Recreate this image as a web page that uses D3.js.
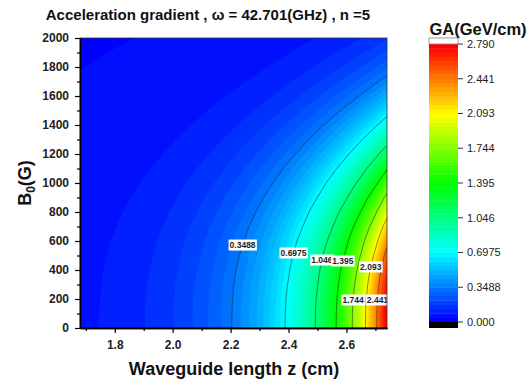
<!DOCTYPE html>
<html><head><meta charset="utf-8">
<script src="https://cdn.jsdelivr.net/npm/d3@7"></script>
<style>
body{margin:0;background:#fff;}
text{font-family:"Liberation Sans",Arial,sans-serif;}
</style>
</head><body>
<svg id="chart" width="532" height="381"></svg>
<script>
// ---- data ----
// GA (GeV/cm) along the bottom edge (B0 = 0) versus waveguide length z (cm)
const zNodes = [1.65,1.70,1.75,1.80,1.85,1.90,1.95,2.00,2.05,2.10,2.15,2.20,2.25,2.30,2.35,2.40,2.45,2.50,2.55,2.60,2.65,2.70,2.75];
const gaAtZeroField = [0.072,0.079,0.088,0.099,0.112,0.129,0.149,0.173,0.204,0.241,0.287,0.343,0.412,0.496,0.600,0.728,0.884,1.076,1.312,1.601,1.957,2.393,2.929];
// relative fall of the gradient with magnetic field B0 (G), read along the right edge
const b0Nodes = [0,100,200,300,400,500,600,700,800,900,1000,1100,1200,1300,1400,1500,1600,1700,1800,1900,2000];
const fieldRatio = [1,0.998,0.988,0.968,0.937,0.895,0.843,0.781,0.711,0.636,0.558,0.481,0.405,0.335,0.271,0.214,0.165,0.125,0.092,0.066,0.046];
const floorGA = 0.04;
// colour scale levels
const majorLevels = [0,0.3488,0.6975,1.046,1.395,1.744,2.093,2.441,2.790];
const majorLabels = ["0.000","0.3488","0.6975","1.046","1.395","1.744","2.093","2.441","2.790"];
const minorPerMajor = 8;
// contour labels: level and the B0 height where the label sits
const labelLevels = [0.3488,0.6975,1.046,1.395,1.744,2.093,2.441];
const labelText = ["0.3488","0.6975","1.046","1.395","1.744","2.093","2.441"];
const labelB0 = [572,517,469,462,193,421,193];
// axes
const xDomain = [1.68,2.74];
const yDomain = [0,2000];
const xTicks = [1.8,2.0,2.2,2.4,2.6];
const xMinorTicks = [1.7,1.9,2.1,2.3,2.5,2.7];
const yTicks = [0,200,400,600,800,1000,1200,1400,1600,1800,2000];
const yMinorTicks = [100,300,500,700,900,1100,1300,1500,1700,1900];

// ---- layout ----
const svg = d3.select("#chart");
const P = {l:80, r:387, t:38, b:328};
const x = d3.scaleLinear().domain(xDomain).range([P.l, P.r]);
const y = d3.scaleLinear().domain(yDomain).range([P.b, P.t]);
const maxLevel = majorLevels[majorLevels.length-1];
const nBands = (majorLevels.length-1)*minorPerMajor;
const fillLevels = d3.range(nBands).map(i => i*maxLevel/nBands);
const rainbow = d3.scaleLinear()
  .domain([0,0.25,0.5,0.75,1])
  .range(["#0000ff","#00ffff","#00ff00","#ffff00","#ff0000"]);
const bandColor = i => rainbow(i/(nBands-1));

// grid
const nz = zNodes.length, nb = b0Nodes.length;
const values = new Array(nz*nb);
for (let j=0;j<nb;j++) for (let i=0;i<nz;i++)
  values[j*nz+i] = floorGA + (gaAtZeroField[i]-floorGA)*fieldRatio[j];
const zIdx = d3.scaleLinear().domain(d3.range(nz)).range(zNodes);
const bIdx = d3.scaleLinear().domain(d3.range(nb)).range(b0Nodes);
function toPath(mp){
  return mp.coordinates.map(poly => poly.map(ring =>
    "M" + ring.map(p => x(zIdx(p[0]-0.5)).toFixed(2)+","+y(bIdx(p[1]-0.5)).toFixed(2)).join("L") + "Z"
  ).join("")).join("");
}

svg.append("defs").append("clipPath").attr("id","plotclip")
  .append("rect").attr("x",P.l).attr("y",P.t).attr("width",P.r-P.l).attr("height",P.b-P.t);

const plot = svg.append("g").attr("clip-path","url(#plotclip)");
const fills = d3.contours().size([nz,nb]).thresholds(fillLevels)(values);
plot.selectAll("path.band").data(fills).join("path")
  .attr("class","band")
  .attr("d", toPath)
  .attr("fill", (d,i) => bandColor(i))
  .attr("stroke", (d,i) => bandColor(i))
  .attr("stroke-width",0.3);

const lines = d3.contours().size([nz,nb]).thresholds(labelLevels)(values);
plot.selectAll("path.cline").data(lines).join("path")
  .attr("class","cline")
  .attr("d", toPath)
  .attr("fill","none")
  .attr("stroke","#1a1a1a")
  .attr("stroke-opacity",0.7)
  .attr("stroke-width",0.7);

// contour labels placed on the lines
const gaZ = d3.scaleLinear().domain(zNodes).range(gaAtZeroField);
const ratioB = d3.scaleLinear().domain(b0Nodes).range(fieldRatio);
labelLevels.forEach((L,k) => {
  const b = labelB0[k];
  const ga0 = floorGA + (L-floorGA)/ratioB(b);
  const z = gaZ.invert(ga0);
  const g = plot.append("g").attr("transform",`translate(${x(z)},${y(b)})`);
  const t = g.append("text").attr("text-anchor","middle").attr("dy","0.35em")
    .attr("font-size",8.5).attr("font-weight","bold").attr("fill","#222").text(labelText[k]);
  const bb = t.node().getBBox();
  g.insert("rect","text").attr("x",bb.x-1).attr("y",bb.y-0.5)
    .attr("width",bb.width+2).attr("height",bb.height+1).attr("fill","#fff");
});

// frame
svg.append("rect").attr("x",P.l).attr("y",P.t).attr("width",P.r-P.l).attr("height",P.b-P.t)
  .attr("fill","none").attr("stroke","#333").attr("stroke-width",0.8);

// axes
function styleAxis(g){
  g.select(".domain").attr("stroke","#000").attr("stroke-width",1.3);
  g.selectAll(".tick line").attr("stroke","#000").attr("stroke-width",1.2);
  g.selectAll(".tick text").attr("font-size",12).attr("font-weight","bold").attr("fill","#222")
    .attr("font-family","'Liberation Sans',Arial,sans-serif");
}
svg.append("g").attr("transform",`translate(0,${P.b})`)
  .call(d3.axisBottom(x).tickValues(xTicks).tickFormat(d3.format(".1f")).tickSize(5).tickPadding(7).tickSizeOuter(0))
  .call(styleAxis);
svg.append("g").attr("transform",`translate(0,${P.b})`)
  .call(d3.axisBottom(x).tickValues(xMinorTicks).tickFormat("").tickSize(3).tickSizeOuter(0))
  .call(styleAxis);
svg.append("g").attr("transform",`translate(${P.l},0)`)
  .call(d3.axisLeft(y).tickValues(yTicks).tickFormat(d3.format("d")).tickSize(5).tickPadding(6).tickSizeOuter(0))
  .call(styleAxis);
svg.append("g").attr("transform",`translate(${P.l},0)`)
  .call(d3.axisLeft(y).tickValues(yMinorTicks).tickFormat("").tickSize(3).tickSizeOuter(0))
  .call(styleAxis);

// titles
svg.append("text").attr("x",208).attr("y",20).attr("text-anchor","middle")
  .attr("font-size",15).attr("font-weight","bold").attr("fill","#111")
  .text("Acceleration gradient , \u03c9 = 42.701(GHz) , n =5");
svg.append("text").attr("x",234).attr("y",375).attr("text-anchor","middle")
  .attr("font-size",18).attr("font-weight","bold").attr("fill","#111")
  .text("Waveguide length z (cm)");
const yt = svg.append("text").attr("transform","translate(31,183) rotate(-90)")
  .attr("text-anchor","middle").attr("font-size",18).attr("font-weight","bold").attr("fill","#111");
yt.append("tspan").text("B");
yt.append("tspan").attr("font-size",12).attr("dy",4).text("0");
yt.append("tspan").attr("dy",-4).text("(G)");

// colour bar
const CB = {l:429, r:458, top:44, bot:322};
const cy = d3.scaleLinear().domain([0,maxLevel]).range([CB.bot, CB.top]);
const cbar = svg.append("g");
cbar.selectAll("rect.cb").data(fillLevels).join("rect").attr("class","cb")
  .attr("x",CB.l).attr("width",CB.r-CB.l)
  .attr("y",(d,i) => cy(i<nBands-1 ? fillLevels[i+1] : maxLevel))
  .attr("height",(d,i) => cy(d) - cy(i<nBands-1 ? fillLevels[i+1] : maxLevel) + 0.4)
  .attr("fill",(d,i) => bandColor(i));
cbar.append("rect").attr("x",CB.l).attr("y",CB.top-6).attr("width",CB.r-CB.l).attr("height",6)
  .attr("fill","#fff").attr("stroke","#888").attr("stroke-width",0.8);
cbar.append("rect").attr("x",CB.l).attr("y",CB.bot).attr("width",CB.r-CB.l).attr("height",6)
  .attr("fill","#000");
cbar.selectAll("line.ct").data(majorLevels).join("line").attr("class","ct")
  .attr("x1",CB.r).attr("x2",CB.r+5).attr("y1",d=>cy(d)).attr("y2",d=>cy(d))
  .attr("stroke","#333").attr("stroke-width",1);
cbar.selectAll("text.cl").data(majorLevels).join("text").attr("class","cl")
  .attr("x",CB.r+9).attr("y",d=>cy(d)).attr("dy","0.35em")
  .attr("font-size",11).attr("fill","#222").text((d,i)=>majorLabels[i]);
svg.append("text").attr("x",478).attr("y",35).attr("text-anchor","middle")
  .attr("font-size",16.5).attr("font-weight","bold").attr("fill","#111").text("GA(GeV/cm)");
</script>
</body></html>
